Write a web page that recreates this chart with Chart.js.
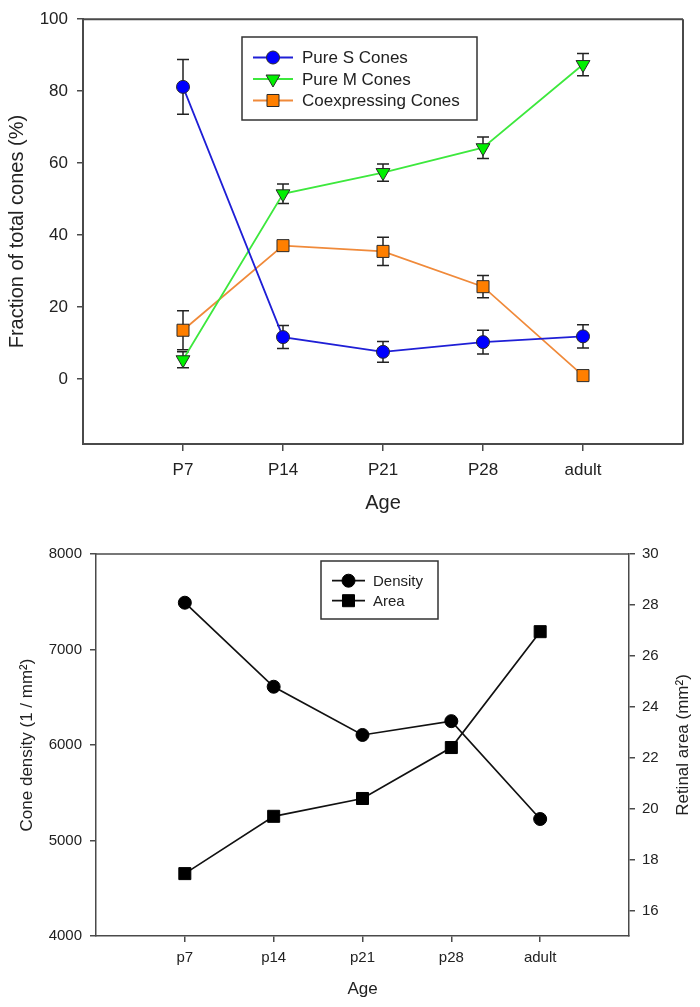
<!DOCTYPE html>
<html>
<head>
<meta charset="utf-8">
<script src="https://cdn.jsdelivr.net/npm/chart.js@4.4.1/dist/chart.umd.min.js"></script>
<style>
  html, body { margin: 0; padding: 0; background: #fff; }
  #top { position: absolute; left: 0; top: 0; width: 700px; height: 515px; }
  #bottom { position: absolute; left: 0; top: 515px; width: 700px; height: 492px; }
</style>
</head>
<body>
<div id="top"><canvas id="c1"></canvas></div>
<div id="bottom"><canvas id="c2"></canvas></div>
<script>
// --- data, top panel (fraction of cones, %)
const topAges = ['P7', 'P14', 'P21', 'P28', 'adult'];
const pureS = [81.2, 11.7, 7.6, 10.3, 11.9];
const pureSErr = [7.6, 3.2, 2.9, 3.3, 3.2];
const pureM = [5.4, 51.5, 57.4, 64.3, 87.4];
const pureMErr = [2.2, 2.7, 2.4, 3.0, 3.1];
const coexp = [13.6, 37.1, 35.5, 25.7, 1.0];
const coexpErr = [5.4, 0.8, 3.9, 3.1, 0];
const topYTicks = [0, 20, 40, 60, 80, 100];

// --- data, bottom panel (density / area)
const bottomAges = ['p7', 'p14', 'p21', 'p28', 'adult'];
const density = [7490, 6610, 6105, 6250, 5225];
const area = [17.45, 19.7, 20.4, 22.4, 26.95];
const densityTicks = [4000, 5000, 6000, 7000, 8000];
const areaTicks = [16, 18, 20, 22, 24, 26, 28, 30];

const FONT = "'Liberation Sans', Arial, sans-serif";
const TXT = '#222';
const AXIS = '#4a4a4a';

function toPoints(vals) {
    return vals.map((v, i) => ({ x: i + 1, y: v }));
}

// draw one marker like the chart does (used for the legend)
function drawMarker(ctx, style, x, y, fill, stroke) {
    ctx.save();
    ctx.fillStyle = fill;
    ctx.strokeStyle = stroke;
    ctx.lineWidth = 1;
    ctx.beginPath();
    if (style.type === 'circle') {
        ctx.arc(x, y, style.r, 0, Math.PI * 2);
    } else if (style.type === 'rect') {
        const s = style.r * Math.SQRT1_2;
        ctx.rect(x - s, y - s, 2 * s, 2 * s);
    } else {
        // triangle pointing down
        const r = style.r;
        for (let k = 0; k < 3; k++) {
            const a = Math.PI + k * 2 * Math.PI / 3;
            const px = x + Math.sin(a) * r, py = y - Math.cos(a) * r;
            k === 0 ? ctx.moveTo(px, py) : ctx.lineTo(px, py);
        }
        ctx.closePath();
    }
    ctx.fill();
    ctx.stroke();
    ctx.restore();
}

// error bars with caps, read from dataset.errors
const errorBars = {
    id: 'errorBars',
    beforeDatasetsDraw(chart) {
        const ctx = chart.ctx;
        ctx.save();
        ctx.strokeStyle = '#222';
        ctx.lineWidth = 1.5;
        chart.data.datasets.forEach((ds, di) => {
            if (!ds.errors) return;
            const xs = chart.scales.x, ys = chart.scales[ds.yAxisID || 'y'];
            ds.data.forEach((p, i) => {
                const e = ds.errors[i];
                if (!e) return;
                const x = xs.getPixelForValue(p.x);
                const y1 = ys.getPixelForValue(p.y + e);
                const y2 = ys.getPixelForValue(p.y - e);
                ctx.beginPath();
                ctx.moveTo(x, y1); ctx.lineTo(x, y2);
                ctx.moveTo(x - 6, y1); ctx.lineTo(x + 6, y1);
                ctx.moveTo(x - 6, y2); ctx.lineTo(x + 6, y2);
                ctx.stroke();
            });
        });
        ctx.restore();
    }
};

// frame lines (top / right) that are not axes
const frame = {
    id: 'frame',
    afterDraw(chart, args, opts) {
        const { left, right, top, bottom } = chart.chartArea;
        const ctx = chart.ctx;
        ctx.save();
        ctx.strokeStyle = AXIS;
        ctx.lineWidth = opts.width || 1.5;
        ctx.beginPath();
        ctx.moveTo(left, top); ctx.lineTo(right, top);
        if (opts.right) { ctx.moveTo(right, top); ctx.lineTo(right, bottom); }
        ctx.stroke();
        ctx.restore();
    }
};

// boxed legend like SigmaPlot
const boxLegend = {
    id: 'boxLegend',
    afterDraw(chart, args, o) {
        if (!o.box) return;
        const ctx = chart.ctx;
        ctx.save();
        ctx.strokeStyle = '#333';
        ctx.lineWidth = 1.5;
        ctx.strokeRect(o.box[0], o.box[1], o.box[2], o.box[3]);
        ctx.font = o.fontSize + 'px ' + FONT;
        ctx.textBaseline = 'middle';
        ctx.fillStyle = TXT;
        chart.data.datasets.forEach((ds, i) => {
            const y = o.rows[i];
            ctx.strokeStyle = ds.borderColor;
            ctx.lineWidth = ds.borderWidth;
            ctx.beginPath();
            ctx.moveTo(o.line[0], y); ctx.lineTo(o.line[1], y);
            ctx.stroke();
            drawMarker(ctx, ds.marker, (o.line[0] + o.line[1]) / 2, y, ds.pointBackgroundColor, ds.pointBorderColor);
            ctx.fillStyle = TXT;
            ctx.fillText(ds.label, o.textX, y + 1);
        });
        ctx.restore();
    }
};

// rotated title for the right axis (reads bottom to top)
const rightTitle = {
    id: 'rightTitle',
    afterDraw(chart, args, o) {
        if (!o.text) return;
        const ctx = chart.ctx;
        const { top, bottom } = chart.chartArea;
        ctx.save();
        ctx.translate(o.x, (top + bottom) / 2);
        ctx.rotate(-Math.PI / 2);
        ctx.font = o.fontSize + 'px ' + FONT;
        ctx.fillStyle = TXT;
        ctx.textAlign = 'center';
        ctx.textBaseline = 'middle';
        ctx.fillText(o.text, 0, 0);
        ctx.restore();
    }
};

function seriesStyle(color, lineColor, marker) {
    return {
        borderColor: lineColor,
        borderWidth: 1.8,
        pointBackgroundColor: color,
        pointBorderColor: '#2a2a2a',
        pointBorderWidth: 1,
        pointStyle: marker.type === 'tri' ? 'triangle' : marker.type,
        pointRotation: marker.type === 'tri' ? 180 : 0,
        pointRadius: marker.r,
        pointHoverRadius: marker.r,
        marker: marker,
        tension: 0,
        fill: false
    };
}

// ---------- top chart
new Chart(document.getElementById('c1'), {
    type: 'line',
    data: {
        datasets: [
            Object.assign({ label: 'Pure S Cones', data: toPoints(pureS), errors: pureSErr },
                seriesStyle('#0000ff', '#1f1fd6', { type: 'circle', r: 6.5 })),
            Object.assign({ label: 'Pure M Cones', data: toPoints(pureM), errors: pureMErr },
                seriesStyle('#00f000', '#3de83d', { type: 'tri', r: 8 })),
            Object.assign({ label: 'Coexpressing Cones', data: toPoints(coexp), errors: coexpErr },
                seriesStyle('#ff7f00', '#f08a3a', { type: 'rect', r: 8.5 }))
        ]
    },
    options: {
        animation: false,
        responsive: true,
        maintainAspectRatio: false,
        layout: { padding: { top: 15, right: 17, left: 0, bottom: 0 } },
        plugins: {
            legend: { display: false },
            tooltip: { enabled: false },
            frame: { right: true, width: 2 },
            boxLegend: {
                box: [242, 37, 235, 83],
                rows: [57.5, 79, 100.5],
                line: [253, 293],
                textX: 302,
                fontSize: 17
            }
        },
        scales: {
            x: {
                type: 'linear', min: 0, max: 6,
                afterBuildTicks: s => { s.ticks = topAges.map((a, i) => ({ value: i + 1 })); },
                afterFit: s => { s.height = 71; },
                ticks: {
                    callback: v => topAges[v - 1],
                    font: { family: FONT, size: 17 }, color: TXT, padding: 9, maxRotation: 0
                },
                grid: { drawOnChartArea: false, tickLength: 7, color: AXIS, lineWidth: 1.5 },
                border: { color: AXIS, width: 2 },
                title: { display: true, text: 'Age', font: { family: FONT, size: 20 }, color: TXT, padding: { top: 0, bottom: 0 } }
            },
            y: {
                min: -18, max: 100,
                afterBuildTicks: s => { s.ticks = topYTicks.map(v => ({ value: v })); },
                afterFit: s => { s.width = 83; },
                ticks: { callback: v => String(v), font: { family: FONT, size: 17 }, color: TXT, padding: 9 },
                grid: { drawOnChartArea: false, tickLength: 6, color: AXIS, lineWidth: 1.5 },
                border: { color: AXIS, width: 2 },
                title: { display: true, text: 'Fraction of total cones (%)', font: { family: FONT, size: 20 }, color: TXT, padding: { top: 5, bottom: 0 } }
            }
        }
    },
    plugins: [errorBars, frame, boxLegend]
});

// ---------- bottom chart
new Chart(document.getElementById('c2'), {
    type: 'line',
    data: {
        datasets: [
            Object.assign({ label: 'Density', data: toPoints(density), yAxisID: 'y' },
                seriesStyle('#000', '#111', { type: 'circle', r: 6.5 }), { borderWidth: 1.7, pointBorderColor: '#000' }),
            Object.assign({ label: 'Area', data: toPoints(area), yAxisID: 'y1' },
                seriesStyle('#000', '#111', { type: 'rect', r: 8.5 }), { borderWidth: 1.7, pointBorderColor: '#000' })
        ]
    },
    options: {
        animation: false,
        responsive: true,
        maintainAspectRatio: false,
        layout: { padding: { top: 39, right: 0, left: 0, bottom: 0 } },
        plugins: {
            legend: { display: false },
            tooltip: { enabled: false },
            frame: { right: false, width: 1.5 },
            boxLegend: {
                box: [321, 46, 117, 58],
                rows: [65.7, 85.7],
                line: [332, 365],
                textX: 373,
                fontSize: 15
            },
            rightTitle: { text: 'Retinal area (mm²)', x: 683, fontSize: 17 }
        },
        scales: {
            x: {
                type: 'linear', min: 0, max: 6,
                afterBuildTicks: s => { s.ticks = bottomAges.map((a, i) => ({ value: i + 1 })); },
                afterFit: s => { s.height = 71; },
                ticks: {
                    callback: v => bottomAges[v - 1],
                    font: { family: FONT, size: 15 }, color: TXT, padding: 7, maxRotation: 0
                },
                grid: { drawOnChartArea: false, tickLength: 6, color: AXIS, lineWidth: 1.5 },
                border: { color: AXIS, width: 1.5 },
                title: { display: true, text: 'Age', font: { family: FONT, size: 17 }, color: TXT, padding: { top: 0, bottom: 7 } }
            },
            y: {
                position: 'left',
                min: 4000, max: 8000,
                afterBuildTicks: s => { s.ticks = densityTicks.map(v => ({ value: v })); },
                afterFit: s => { s.width = 96; },
                ticks: { callback: v => String(v), font: { family: FONT, size: 15 }, color: TXT, padding: 8 },
                grid: { drawOnChartArea: false, tickLength: 6, color: AXIS, lineWidth: 1.5 },
                border: { color: AXIS, width: 1.5 },
                title: { display: true, text: 'Cone density (1 / mm²)', font: { family: FONT, size: 17 }, color: TXT, padding: { top: 17, bottom: 0 } }
            },
            y1: {
                position: 'right',
                min: 15, max: 30,
                afterBuildTicks: s => { s.ticks = areaTicks.map(v => ({ value: v })); },
                afterFit: s => { s.width = 71; },
                ticks: { callback: v => String(v), font: { family: FONT, size: 15 }, color: TXT, padding: 7 },
                grid: { drawOnChartArea: false, tickLength: 6, color: AXIS, lineWidth: 1.5 },
                border: { color: AXIS, width: 1.5 }
            }
        }
    },
    plugins: [frame, boxLegend, rightTitle]
});
</script>
</body>
</html>
